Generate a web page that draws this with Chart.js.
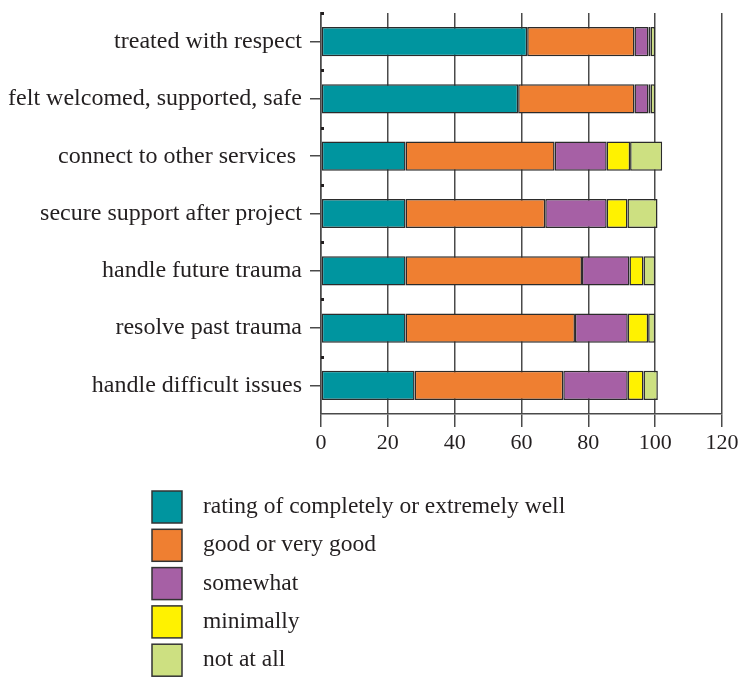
<!DOCTYPE html>
<html>
<head>
<meta charset="utf-8">
<script src="https://cdn.jsdelivr.net/npm/chart.js@4/dist/chart.umd.min.js"></script>
<style>
  html, body { margin: 0; padding: 0; background: #ffffff; }
  #wrap { width: 742px; height: 679px; position: relative; }
</style>
</head>
<body>
<div id="wrap"><canvas id="c" width="742" height="679"></canvas></div>
<script>
const categories = [
  "treated with respect",
  "felt welcomed, supported, safe",
  "connect to other services ",
  "secure support after project",
  "handle future trauma",
  "resolve past trauma",
  "handle difficult issues"
];
const seriesNames = [
  "rating of completely or extremely well",
  "good or very good",
  "somewhat",
  "minimally",
  "not at all"
];
const completelyWell = [61.7, 59.0, 25.3, 25.3, 25.3, 25.3, 28.0];
const goodVeryGood   = [32.1, 34.8, 44.6, 41.8, 52.8, 50.7, 44.5];
const somewhat       = [4.2, 4.2, 15.6, 18.4, 14.2, 15.8, 19.3];
const minimally      = [0.6, 0.6, 7.0, 6.2, 4.2, 6.1, 4.7];
const notAtAll       = [1.4, 1.4, 9.6, 9.0, 3.5, 2.1, 4.3];
const xTicks = [0, 20, 40, 60, 80, 100, 120];

const colors = ["#00959f", "#ef7f31", "#a660a5", "#fff200", "#cde081"];
const seriesValues = [completelyWell, goodVeryGood, somewhat, minimally, notAtAll];

const FONT = "'Liberation Serif', 'DejaVu Serif', serif";
const TEXT = "#231f20";
const LINE = "#4a4a4a";

const extrasPlugin = {
  id: 'extras',
  afterDraw(chart) {
    const ctx = chart.ctx;
    const y = chart.scales.y;
    const area = chart.chartArea;
    // small marks at category boundaries
    ctx.save();
    ctx.fillStyle = "#231f20";
    const half = (y.getPixelForValue(1) - y.getPixelForValue(0)) / 2;
    for (let i = 0; i < categories.length; i++) {
      const py = y.getPixelForValue(i) - half;
      ctx.fillRect(area.left, Math.round(py) - 1, 3, 3);
    }
    ctx.restore();
    // legend as a single column
    ctx.save();
    const x0 = 152, y0 = 491, step = 38.3, bw = 30, bh = 32;
    ctx.font = "23.5px " + FONT;
    ctx.textBaseline = "middle";
    ctx.textAlign = "left";
    chart.data.datasets.forEach((ds, i) => {
      const by = y0 + i * step;
      ctx.fillStyle = ds.backgroundColor;
      ctx.fillRect(x0, by, bw, bh);
      ctx.lineWidth = 1.5;
      ctx.strokeStyle = "#333333";
      ctx.strokeRect(x0, by, bw, bh);
      ctx.fillStyle = TEXT;
      ctx.fillText(ds.label, 203, by + bh / 2);
    });
    ctx.restore();
  }
};

new Chart(document.getElementById('c'), {
  type: 'bar',
  data: {
    labels: categories,
    datasets: seriesNames.map((name, i) => ({
      label: name,
      data: seriesValues[i],
      backgroundColor: colors[i],
      borderColor: "#2b2b2b",
      borderWidth: 1.5,
      borderSkipped: false,
      barPercentage: 0.51,
      categoryPercentage: 1.0
    }))
  },
  options: {
    indexAxis: 'y',
    responsive: false,
    animation: false,
    devicePixelRatio: 1,
    layout: { padding: { top: 13, right: 20, left: 0, bottom: 0 } },
    plugins: {
      legend: { display: false },
      tooltip: { enabled: false }
    },
    scales: {
      x: {
        stacked: true,
        min: 0,
        max: 120,
        afterBuildTicks: (scale) => { scale.ticks = xTicks.map(v => ({ value: v })); },
        ticks: {
          color: TEXT,
          font: { family: FONT, size: 22 },
          padding: 3,
          maxRotation: 0
        },
        grid: {
          color: LINE,
          lineWidth: 1.5,
          tickLength: 13,
          drawOnChartArea: true
        },
        border: { display: true, color: LINE, width: 1.5 },
        afterFit: (scale) => { scale.height = 265; scale.paddingLeft = 0; }
      },
      y: {
        stacked: true,
        ticks: {
          color: TEXT,
          font: { family: FONT, size: 24 },
          padding: 8
        },
        grid: {
          display: true,
          drawOnChartArea: false,
          offset: false,
          color: LINE,
          lineWidth: 1.5,
          tickLength: 11
        },
        border: { display: true, color: LINE, width: 1.5 },
        afterFit: (scale) => { scale.width = 321; scale.paddingTop = 0; scale.paddingBottom = 0; }
      }
    }
  },
  plugins: [extrasPlugin]
});
</script>
</body>
</html>
